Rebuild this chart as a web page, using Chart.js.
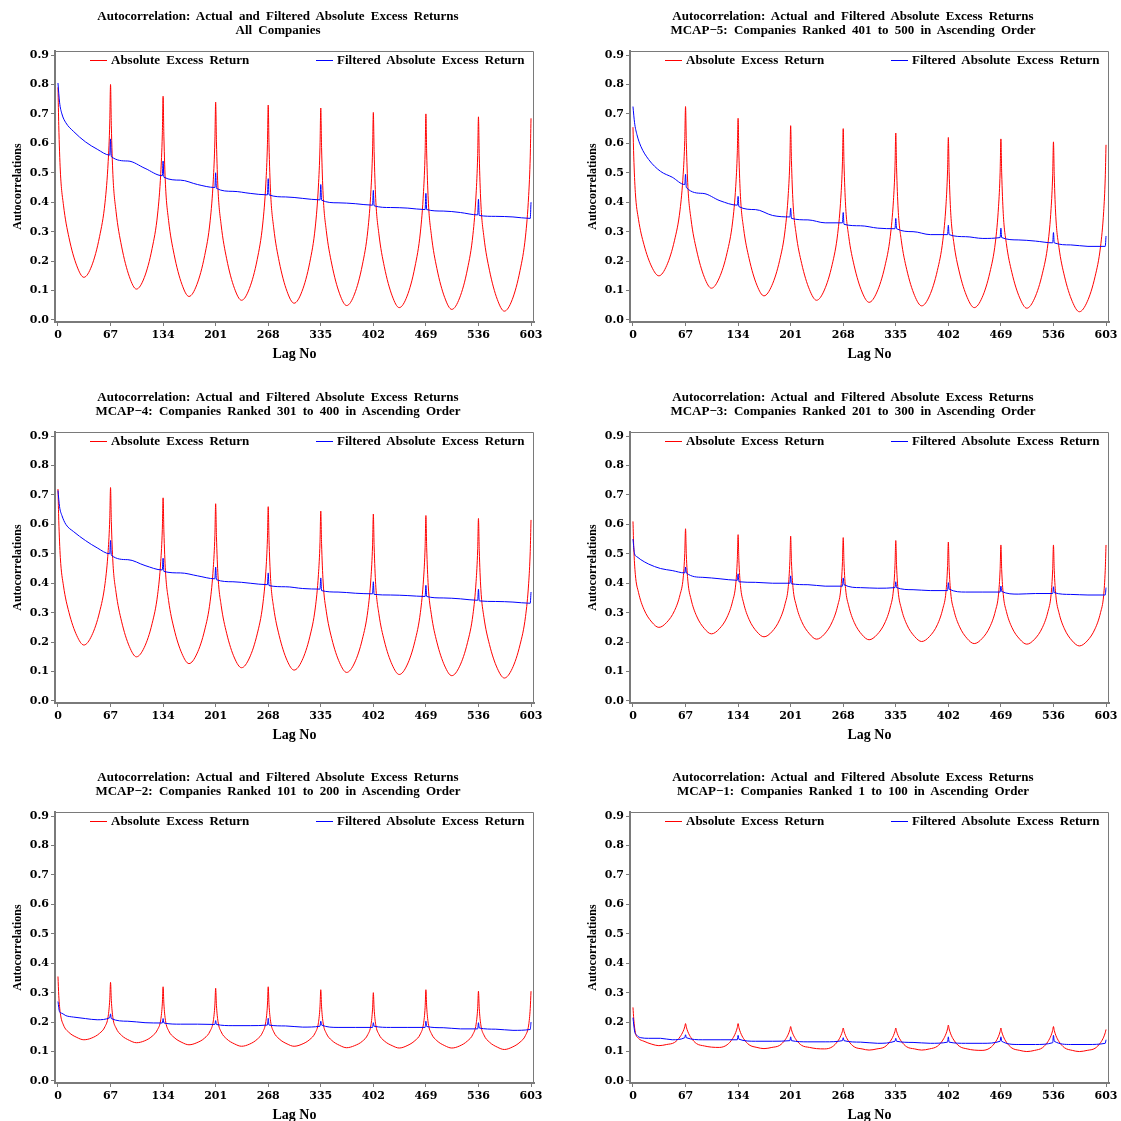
<!DOCTYPE html>
<html>
<head>
<meta charset="utf-8">
<script src="https://cdn.jsdelivr.net/npm/chart.js@4.4.1/dist/chart.umd.min.js"></script>
<style>
  html, body { margin: 0; padding: 0; background: #fff; overflow: hidden; }
  body { width: 1121px; height: 1121px; position: relative; }
  .panel { position: absolute; width: 560px; height: 375px; }
  .panel canvas { position: absolute; left: 0; top: 0; }
  .ttl { position: absolute; left: 0; width: 556px; text-align: center; font: bold 13px "Liberation Serif", serif;
         word-spacing: 3px; line-height: 14px; color: #000; white-space: nowrap; }
  .leg { position: absolute; font: bold 13px "Liberation Serif", serif; word-spacing: 3px; color: #000;
         line-height: 14px; white-space: nowrap; }
  .legline { position: absolute; height: 1px; }
</style>
</head>
<body>
<script>
// ── lags & ticks ──────────────────────────────────────────
const lagTicks = [0, 67, 134, 201, 268, 335, 402, 469, 536, 603];
const yTicks   = [0, 0.1, 0.2, 0.3, 0.4, 0.5, 0.6, 0.7, 0.8, 0.9];

// lags read for the actual (red) series
const redLags = [
  0, 1, 3, 7, 14, 24, 33, 43, 53, 60, 64, 66,
  67, 68, 70, 74, 81, 91, 100, 110, 120, 127, 131, 133,
  134, 135, 137, 141, 148, 158, 167, 177, 187, 194, 198, 200,
  201, 202, 204, 208, 215, 225, 234, 244, 254, 261, 265, 267,
  268, 269, 271, 275, 282, 292, 301, 311, 321, 328, 332, 334,
  335, 336, 338, 342, 349, 359, 368, 378, 388, 395, 399, 401,
  402, 403, 405, 409, 416, 426, 435, 445, 455, 462, 466, 468,
  469, 470, 472, 476, 483, 493, 502, 512, 522, 529, 533, 535,
  536, 537, 539, 543, 550, 560, 569, 579, 589, 596, 600, 602,
  603
];

// lags read for the filtered (blue) series
const blueLags = [
  0, 2, 5, 10, 20, 35, 50, 66,
  67, 68, 89, 111, 133,
  134, 135, 156, 178, 200,
  201, 202, 223, 245, 267,
  268, 269, 290, 312, 334,
  335, 336, 357, 379, 401,
  402, 403, 424, 446, 468,
  469, 470, 491, 513, 535,
  536, 537, 558, 580, 602,
  603
];

// ── All Companies ─────────────────────────────────────────
const allRed = [
  .79, .661, .506, .39, .28, .184, .145, .184, .283, .40, .538, .669,
  .80, .661, .494, .369, .251, .147, .105, .144, .243, .36, .498, .629,
  .76, .624, .461, .338, .223, .121, .08, .12, .219, .337, .476, .608,
  .74, .605, .444, .323, .208, .107, .067, .107, .206, .326, .465, .597,
  .73, .595, .434, .313, .198, .097, .057, .097, .196, .316, .455, .587,
  .72, .586, .425, .304, .19, .089, .049, .088, .187, .305, .443, .574,
  .705, .572, .413, .294, .181, .082, .042, .081, .18, .299, .437, .568,
  .70, .567, .408, .288, .175, .076, .036, .075, .173, .291, .428, .559,
  .69, .558, .40, .281, .169, .07, .03, .069, .168, .285, .423, .554,
  .685
];
const allBlue = [
  .805, .74, .70, .67, .64, .605, .58, .56,
  .615, .555, .54, .515, .49,
  .54, .485, .475, .46, .45,
  .50, .447, .437, .43, .425,
  .48, .425, .418, .413, .408,
  .46, .407, .398, .395, .39,
  .44, .388, .382, .38, .375,
  .43, .375, .37, .365, .357,
  .41, .355, .352, .35, .345,
  .40
];

// ── MCAP-5 ────────────────────────────────────────────────
const mcap5Red = [
  .655, .554, .433, .342, .256, .18, .15, .185, .271, .374, .495, .61,
  .725, .602, .454, .342, .238, .145, .108, .143, .229, .333, .454, .57,
  .685, .564, .42, .311, .209, .118, .082, .117, .203, .307, .429, .544,
  .66, .541, .399, .292, .192, .103, .067, .102, .189, .294, .417, .533,
  .65, .532, .39, .284, .184, .095, .06, .095, .181, .284, .405, .52,
  .635, .518, .377, .271, .171, .083, .048, .082, .168, .271, .391, .506,
  .62, .504, .366, .262, .163, .077, .042, .076, .162, .265, .386, .50,
  .615, .50, .362, .259, .161, .075, .04, .074, .159, .26, .379, .492,
  .605, .49, .351, .247, .149, .063, .028, .062, .147, .249, .368, .482,
  .595
];
const mcap5Blue = [
  .725, .67, .63, .59, .545, .505, .485, .46,
  .495, .45, .43, .405, .39,
  .42, .385, .375, .355, .35,
  .38, .345, .34, .33, .33,
  .365, .325, .32, .312, .31,
  .345, .31, .30, .29, .29,
  .322, .29, .283, .277, .28,
  .312, .28, .272, .268, .262,
  .297, .262, .255, .25, .25,
  .285
];

// ── MCAP-4 ────────────────────────────────────────────────
const mcap4Red = [
  .72, .614, .487, .391, .301, .222, .19, .222, .302, .399, .511, .618,
  .725, .61, .472, .369, .271, .185, .15, .182, .263, .361, .474, .582,
  .69, .577, .442, .341, .245, .161, .127, .16, .241, .339, .453, .561,
  .67, .559, .425, .325, .23, .146, .113, .146, .228, .326, .441, .551,
  .66, .549, .416, .316, .222, .138, .105, .137, .218, .316, .429, .537,
  .645, .535, .404, .305, .212, .13, .097, .129, .21, .307, .42, .527,
  .635, .526, .395, .297, .204, .123, .09, .122, .203, .301, .414, .522,
  .63, .521, .391, .293, .20, .119, .086, .118, .198, .294, .406, .513,
  .62, .512, .382, .284, .192, .111, .078, .11, .191, .287, .40, .508,
  .615
];
const mcap4Blue = [
  .715, .66, .63, .60, .575, .545, .52, .50,
  .545, .495, .48, .46, .445,
  .485, .44, .435, .425, .415,
  .455, .412, .405, .40, .395,
  .435, .392, .388, .382, .38,
  .418, .375, .37, .366, .364,
  .405, .362, .36, .358, .355,
  .393, .355, .35, .347, .342,
  .38, .34, .338, .336, .332,
  .37
];

// ── MCAP-3 ────────────────────────────────────────────────
const mcap3Red = [
  .61, .52, .43, .369, .311, .268, .25, .267, .307, .361, .418, .501,
  .585, .496, .407, .346, .289, .246, .228, .245, .285, .339, .397, .481,
  .565, .478, .392, .333, .277, .235, .218, .235, .276, .331, .389, .475,
  .56, .473, .385, .326, .27, .228, .21, .227, .269, .324, .383, .469,
  .555, .468, .382, .323, .267, .225, .208, .225, .265, .319, .377, .461,
  .545, .459, .374, .315, .26, .219, .202, .219, .259, .314, .371, .456,
  .54, .454, .368, .309, .254, .212, .195, .212, .252, .306, .363, .446,
  .53, .446, .362, .304, .25, .21, .193, .21, .25, .304, .362, .446,
  .53, .444, .359, .30, .245, .204, .187, .204, .245, .30, .359, .444,
  .53
];
const mcap3Blue = [
  .55, .50, .49, .48, .465, .45, .443, .435,
  .455, .435, .42, .415, .41,
  .432, .405, .403, .40, .40,
  .425, .398, .395, .39, .39,
  .418, .395, .385, .383, .385,
  .405, .385, .378, .375, .375,
  .402, .38, .37, .37, .37,
  .39, .372, .363, .365, .365,
  .388, .368, .362, .36, .36,
  .385
];

// ── MCAP-2 ────────────────────────────────────────────────
const mcap2Red = [
  .355, .29, .23, .19, .165, .148, .14, .146, .162, .185, .22, .276,
  .335, .274, .215, .18, .155, .138, .13, .136, .152, .175, .208, .262,
  .32, .262, .206, .171, .148, .131, .123, .13, .146, .17, .204, .258,
  .315, .257, .202, .167, .143, .126, .118, .125, .142, .166, .202, .258,
  .32, .26, .203, .167, .143, .126, .118, .125, .141, .164, .198, .252,
  .31, .252, .197, .162, .138, .121, .113, .12, .135, .158, .191, .244,
  .30, .245, .192, .159, .136, .12, .112, .12, .137, .16, .195, .25,
  .31, .252, .196, .161, .137, .12, .112, .119, .136, .159, .193, .247,
  .305, .247, .191, .156, .132, .115, .107, .115, .132, .155, .19, .246,
  .305
];
const mcap2Blue = [
  .27, .235, .23, .222, .217, .212, .208, .215,
  .228, .212, .203, .198, .197,
  .212, .197, .193, .193, .192,
  .205, .192, .188, .188, .19,
  .213, .19, .187, .183, .186,
  .203, .19, .182, .182, .182,
  .198, .186, .182, .182, .182,
  .203, .185, .181, .177, .177,
  .198, .18, .176, .172, .175,
  .20
];

// ── MCAP-1 ────────────────────────────────────────────────
const mcap1Red = [
  .25, .21, .165, .145, .135, .125, .12, .124, .131, .15, .169, .184,
  .195, .183, .167, .147, .127, .119, .115, .114, .123, .144, .165, .182,
  .195, .182, .165, .144, .123, .114, .11, .114, .121, .14, .159, .174,
  .185, .174, .159, .14, .121, .114, .11, .109, .116, .135, .154, .169,
  .18, .169, .154, .135, .116, .109, .105, .109, .116, .135, .154, .169,
  .18, .169, .154, .135, .116, .109, .105, .109, .118, .139, .16, .177,
  .19, .177, .16, .139, .118, .109, .105, .104, .112, .132, .152, .168,
  .18, .168, .152, .132, .112, .104, .10, .104, .113, .134, .155, .172,
  .185, .172, .155, .134, .113, .104, .10, .104, .111, .13, .149, .164,
  .175
];
const mcap1Blue = [
  .215, .17, .155, .147, .145, .145, .14, .147,
  .157, .147, .14, .14, .14,
  .155, .142, .135, .135, .137,
  .15, .137, .133, .133, .137,
  .147, .137, .132, .128, .135,
  .145, .135, .131, .128, .132,
  .15, .132, .128, .128, .135,
  .15, .135, .124, .124, .13,
  .155, .135, .124, .124, .128,
  .14
];

const TITLE_1 = "Autocorrelation: Actual and Filtered Absolute Excess Returns";
const subTitles = [
  "All Companies",
  "MCAP\u22125: Companies Ranked 401 to 500 in Ascending Order",
  "MCAP\u22124: Companies Ranked 301 to 400 in Ascending Order",
  "MCAP\u22123: Companies Ranked 201 to 300 in Ascending Order",
  "MCAP\u22122: Companies Ranked 101 to 200 in Ascending Order",
  "MCAP\u22121: Companies Ranked 1 to 100 in Ascending Order",
];
const redSeries  = [allRed, mcap5Red, mcap4Red, mcap3Red, mcap2Red, mcap1Red];
const blueSeries = [allBlue, mcap5Blue, mcap4Blue, mcap3Blue, mcap2Blue, mcap1Blue];

// panel grid: 2 columns x 3 rows
const COL_X = [0, 575];
const ROW_Y = [0, 381, 761];

const AXIS_GRAY = "#7a7a7a";
const TICK_FONT = { family: "'DejaVu Serif', serif", size: 11, weight: "bold" };

// top + right frame lines
const framePlugin = {
  id: "frame",
  afterDraw(chart) {
    const { ctx, chartArea: a } = chart;
    ctx.save();
    ctx.strokeStyle = AXIS_GRAY;
    ctx.lineWidth = 1;
    ctx.beginPath();
    ctx.moveTo(a.left, a.top + 0.5);
    ctx.lineTo(a.right - 0.5, a.top + 0.5);
    ctx.lineTo(a.right - 0.5, a.bottom);
    ctx.stroke();
    ctx.restore();
  },
};

function addLegend(panel) {
  const items = [
    { color: "#ff0000", x: 90, text: "Absolute Excess Return" },
    { color: "#0000ff", x: 316, text: "Filtered Absolute Excess Return" },
  ];
  items.forEach(it => {
    const ln = document.createElement("div");
    ln.className = "legline";
    ln.style.cssText = `left:${it.x}px;top:60px;width:17px;background:${it.color}`;
    panel.appendChild(ln);
    const tx = document.createElement("div");
    tx.className = "leg";
    tx.style.cssText = `left:${it.x + 21}px;top:53px`;
    tx.textContent = it.text;
    panel.appendChild(tx);
  });
}

function buildPanel(i) {
  const panel = document.createElement("div");
  panel.className = "panel";
  panel.style.left = COL_X[i % 2] + "px";
  panel.style.top  = ROW_Y[Math.floor(i / 2)] + "px";
  document.body.appendChild(panel);

  const canvas = document.createElement("canvas");
  canvas.width = 560;
  canvas.height = 375;
  panel.appendChild(canvas);

  [TITLE_1, subTitles[i]].forEach((t, k) => {
    const d = document.createElement("div");
    d.className = "ttl";
    d.style.top = (9 + k * 14) + "px";
    d.textContent = t;
    panel.appendChild(d);
  });
  addLegend(panel);

  const red  = redSeries[i];
  const blue = blueSeries[i];

  new Chart(canvas.getContext("2d"), {
    type: "line",
    data: {
      datasets: [
        {
          label: "Absolute Excess Return",
          data: redLags.map((x, j) => ({ x, y: red[j] })),
          borderColor: "#ff0000",
          borderWidth: 1,
          pointRadius: 0,
          cubicInterpolationMode: "monotone",
          order: 2,
        },
        {
          label: "Filtered Absolute Excess Return",
          data: blueLags.map((x, j) => ({ x, y: blue[j] })),
          borderColor: "#0000ff",
          borderWidth: 1,
          pointRadius: 0,
          cubicInterpolationMode: "monotone",
          order: 1,
        },
      ],
    },
    options: {
      responsive: false,
      animation: false,
      layout: { padding: { top: 51, right: 26, bottom: 0, left: 0 } },
      plugins: { legend: { display: false }, tooltip: { enabled: false } },
      scales: {
        x: {
          type: "linear",
          min: -3.8,
          max: 606.8,
          afterBuildTicks: s => { s.ticks = lagTicks.map(v => ({ value: v })); },
          afterFit: s => { s.height = 53; },
          ticks: { font: TICK_FONT, color: "#000", padding: 3, maxRotation: 0, autoSkip: false },
          grid: { drawOnChartArea: false, tickLength: 4, color: AXIS_GRAY },
          border: { color: AXIS_GRAY, width: 2 },
          title: {
            display: true, text: "Lag No", color: "#000",
            font: { family: "'Liberation Serif', serif", size: 14, weight: "bold" },
            padding: { top: 0, bottom: 12 },
          },
        },
        y: {
          min: -0.0068,
          max: 0.9136,
          afterBuildTicks: s => { s.ticks = yTicks.map(v => ({ value: v })); },
          afterFit: s => { s.width = 55; },
          ticks: { font: TICK_FONT, color: "#000", padding: 2, callback: v => v.toFixed(1) },
          grid: { drawOnChartArea: false, tickLength: 4, color: AXIS_GRAY },
          border: { color: AXIS_GRAY, width: 2 },
          title: {
            display: true, text: "Autocorrelations", color: "#000",
            font: { family: "'Liberation Serif', serif", size: 12, weight: "bold" },
            padding: { top: 11, bottom: 0 },
          },
        },
      },
    },
    plugins: [framePlugin],
  });
}

for (let i = 0; i < 6; i++) buildPanel(i);
</script>
</body>
</html>
